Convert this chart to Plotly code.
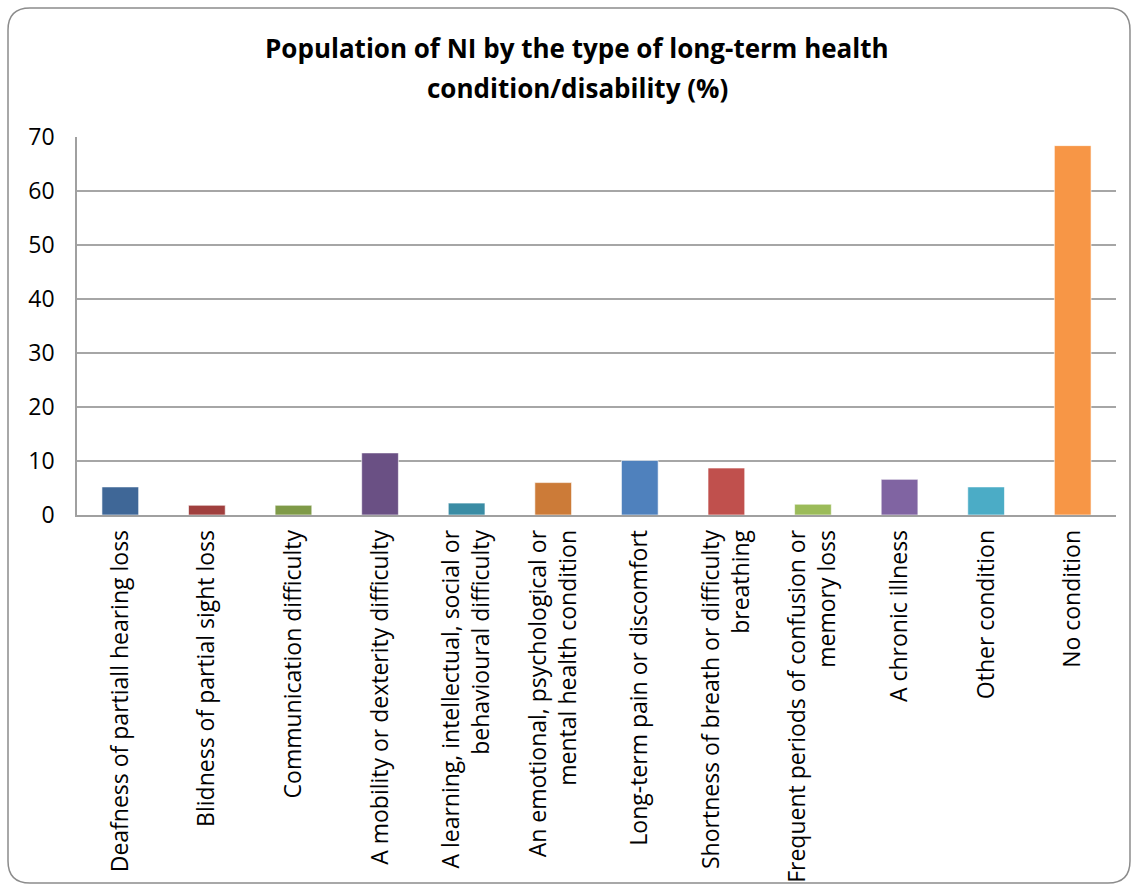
import plotly.graph_objects as go

categories = [
    "Deafness of partiall hearing loss",
    "Blidness of partial sight loss",
    "Communication difficulty",
    "A mobility or dexterity difficulty",
    "A learning, intellectual, social or<br>behavioural difficulty",
    "An emotional, psychological or<br>mental health condition",
    "Long-term pain or discomfort",
    "Shortness of breath or difficulty<br>breathing",
    "Frequent periods of confusion or<br>memory loss",
    "A chronic illness",
    "Other condition",
    "No condition",
]
values = [5.2, 1.8, 1.8, 11.5, 2.2, 6.0, 10.1, 8.7, 2.0, 6.6, 5.2, 68.4]
colors = ["#3F6797", "#A03F3E", "#7F9A48", "#6A5084", "#3A8CA4", "#CC7B38",
          "#4F81BD", "#C0504D", "#9BBB59", "#8064A2", "#4BACC6", "#F79646"]
y_ticks = [0, 10, 20, 30, 40, 50, 60, 70]
title_lines = ["Population of NI by the type of long-term health",
               "condition/disability (%)"]

W, H = 1136, 890
L, R, T, B = 77, 20, 137, 375
pw, ph = W - L - R, H - T - B

fig = go.Figure(go.Bar(
    x=categories, y=values,
    marker=dict(color=colors, line=dict(color="rgba(255,255,255,0.6)", width=1)),
    width=0.424,
))

def P(x, y):
    return f"{(x - L) / pw:.5f},{(H - B - y) / ph:.5f}"

# rounded outer border
x0, y0, x1, y1, r = 8, 8, 1130, 883, 22
path = (f"M {P(x0 + r, y0)} L {P(x1 - r, y0)} Q {P(x1, y0)} {P(x1, y0 + r)} "
        f"L {P(x1, y1 - r)} Q {P(x1, y1)} {P(x1 - r, y1)} "
        f"L {P(x0 + r, y1)} Q {P(x0, y1)} {P(x0, y1 - r)} "
        f"L {P(x0, y0 + r)} Q {P(x0, y0)} {P(x0 + r, y0)} Z")

title_x = (577 - L) / pw
annotations = []
for txt, cy in zip(title_lines, [48, 88]):
    annotations.append(dict(
        text=f"<b>{txt}</b>", x=title_x, y=(H - B - cy) / ph,
        xref="paper", yref="paper", xanchor="center", yanchor="middle",
        showarrow=False, font=dict(size=26, family="Open Sans", color="#000000"),
    ))

fig.update_layout(
    width=W, height=H,
    margin=dict(l=L, r=R, t=T, b=B),
    paper_bgcolor="white", plot_bgcolor="white",
    font=dict(family="Open Sans", color="#000000"),
    showlegend=False,
    annotations=annotations,
    shapes=[dict(type="path", path=path, xref="paper", yref="paper",
                 line=dict(color="#8C8C8C", width=1.5), layer="below")],
    xaxis=dict(
        tickangle=-90, tickfont=dict(size=23, color="#000000", family="Open Sans"),
        showline=True, linecolor="#A0A0A0", linewidth=1.5,
        ticks="", showgrid=False, ticklabelstandoff=4, automargin=False,
    ),
    yaxis=dict(
        range=[0, 70], tickvals=y_ticks,
        tickfont=dict(size=23, color="#000000", family="Open Sans"),
        showgrid=True, gridcolor="#A6A6A6", gridwidth=1.5,
        showline=True, linecolor="#A0A0A0", linewidth=1.5,
        zeroline=False, ticks="", ticklabelstandoff=16, automargin=False,
    ),
)

fig.write_html("out.html")
